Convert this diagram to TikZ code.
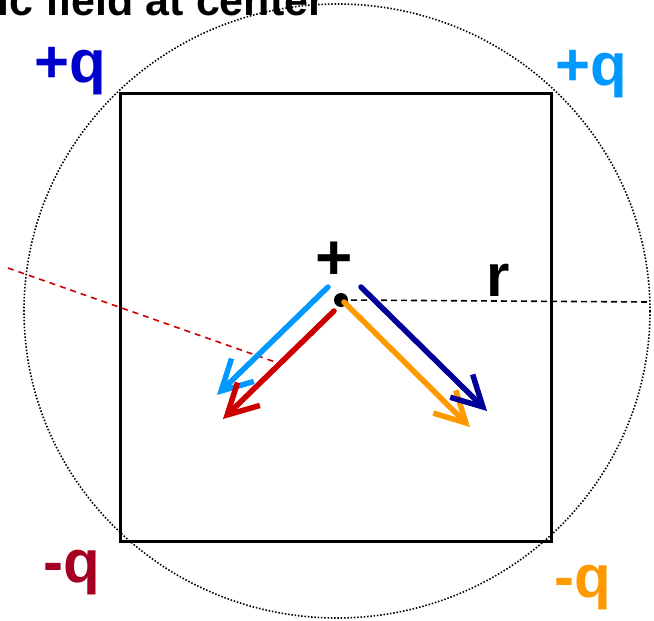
\documentclass[tikz,border=0pt]{standalone}
\usepackage{fontspec}
\setmainfont{Liberation Sans}
\usetikzlibrary{arrows.meta}
\definecolor{qblue}{HTML}{0000CC}
\definecolor{qlight}{HTML}{0099FF}
\definecolor{qdred}{HTML}{A50021}
\definecolor{qorange}{HTML}{FF9900}
\definecolor{ared}{HTML}{CC0000}
\definecolor{adblue}{HTML}{000099}
\begin{document}
\begin{tikzpicture}[x=1pt,y=-1pt,
  lbl/.style={inner sep=0pt,anchor=base west,font=\fontsize{60}{70}\selectfont\bfseries},
  field/.style={line width=5.5pt,line cap=round,-{Straight Barb[length=30pt,width=32pt]}},
  radial/.style={line width=1.6pt,dash pattern=on 6pt off 4pt}]
\useasboundingbox (0,0) rectangle (654,621);
% title (cut off at the left edge)
\node[inner sep=0pt,anchor=base west,font=\fontsize{43}{50}\selectfont\bfseries] (title) at (-2.5,16) {ic field at center};
% dotted circle
\draw[line width=1.6pt,dash pattern=on 1.5pt off 1.8pt] (337,311) ellipse [x radius=313,y radius=307];
% square
\coordinate (TL) at (120,93);
\coordinate (BR) at (551,541);
\draw[line width=3pt] (TL) rectangle (BR);
% charge labels
\node[lbl,text=qblue] (qA) at (34,82) {+q};
\node[lbl,text=qlight] (qB) at (555,85) {+q};
\node[lbl,text=qdred] (qC) at (43,582) {-q};
\node[lbl,text=qorange] (qD) at (554,597) {-q};
% test charge
\node[circle,fill=black,inner sep=0pt,minimum size=14pt] (P) at (341,300) {};
\node[inner sep=0pt,font=\fontsize{64}{70}\selectfont\bfseries] (plus) at (334,261) {+};
% radius
\coordinate (R) at (650,302);
\draw[radial] (P.center) -- (R);
\node[lbl] (r) at (486,296) {r};
% red dashed line
\coordinate (D1) at (8,268);
\coordinate (D2) at (278,363);
\draw[line width=1.6pt,ared,dash pattern=on 6pt off 5pt] (D1) -- (D2);
% field arrows
\coordinate (a1) at (328,287); \coordinate (a2) at (217,395);
\coordinate (b1) at (334,311); \coordinate (b2) at (223,419);
\coordinate (c1) at (344,302); \coordinate (c2) at (470,427);
\coordinate (d1) at (361,287); \coordinate (d2) at (487,411);
\draw[field,qlight] (a1) -- (a2);
\draw[field,ared] (b1) -- (b2);
\draw[field,qorange] (c1) -- (c2);
\draw[field,adblue] (d1) -- (d2);
\end{tikzpicture}
\end{document}
